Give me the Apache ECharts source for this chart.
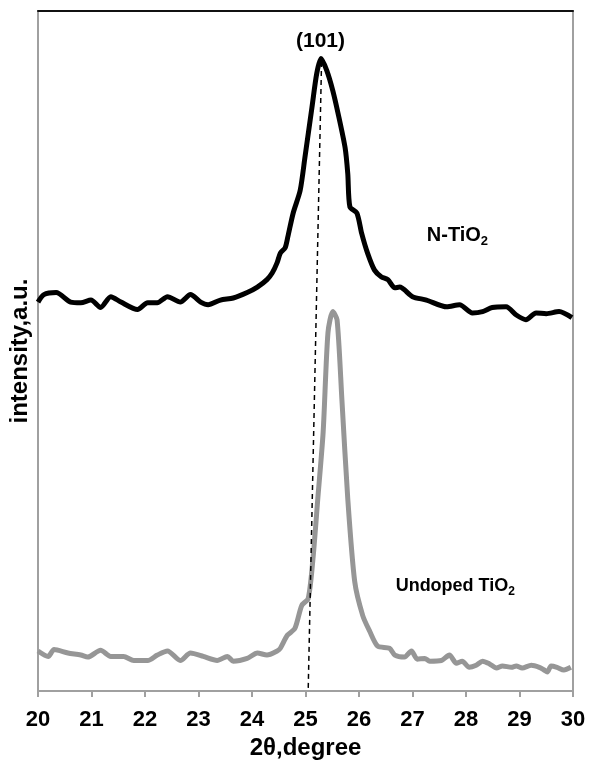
<!DOCTYPE html>
<html>
<head>
<meta charset="utf-8">
<script src="https://cdn.jsdelivr.net/npm/echarts@6/dist/echarts.min.js"></script>
<style>
  html, body { margin: 0; padding: 0; background: #fff; }
  #main { width: 590px; height: 765px; }
</style>
</head>
<body>
<div id="main"></div>
<script>
// 2theta (degree) / intensity (a.u., 0-100 of the plot height)
var nTheta = [20.00, 20.11, 20.34, 20.61, 20.80, 20.99, 21.17, 21.36, 21.55, 21.86, 22.05, 22.23, 22.42, 22.66, 22.85, 23.04, 23.18, 23.41, 23.65, 23.91, 24.10, 24.28, 24.38, 24.47, 24.53, 24.62, 24.67, 24.77, 24.90, 24.99, 25.12, 25.21, 25.29, 25.40, 25.51, 25.61, 25.74, 25.79, 25.83, 25.96, 26.05, 26.16, 26.29, 26.42, 26.54, 26.67, 26.76, 27.00, 27.26, 27.64, 27.88, 28.12, 28.31, 28.49, 28.75, 28.94, 29.12, 29.31, 29.50, 29.74, 29.98];
var nInt = [57.2, 58.3, 58.6, 57.2, 57.1, 57.5, 56.4, 58.0, 57.2, 56.1, 57.1, 57.1, 58.0, 57.2, 58.3, 57.2, 56.8, 57.5, 57.8, 58.6, 59.4, 60.5, 61.5, 63.0, 64.4, 65.2, 66.8, 70.3, 73.6, 78.5, 85.8, 90.8, 93.0, 91.2, 88.3, 84.9, 79.9, 76.1, 71.2, 70.3, 67.3, 64.4, 61.9, 60.9, 60.5, 59.3, 59.4, 58.0, 57.5, 56.5, 56.8, 55.6, 55.8, 56.4, 56.5, 55.3, 54.6, 55.6, 55.5, 55.8, 54.9];

var uTheta = [20.00, 20.19, 20.30, 20.56, 20.80, 20.93, 21.17, 21.36, 21.60, 21.79, 22.05, 22.23, 22.42, 22.66, 22.85, 23.09, 23.35, 23.54, 23.65, 23.91, 24.10, 24.28, 24.47, 24.53, 24.66, 24.80, 24.93, 25.05, 25.14, 25.23, 25.33, 25.42, 25.51, 25.59, 25.68, 25.79, 25.92, 26.07, 26.20, 26.35, 26.57, 26.67, 26.85, 26.98, 27.09, 27.23, 27.32, 27.54, 27.69, 27.82, 27.93, 28.06, 28.19, 28.31, 28.44, 28.57, 28.68, 28.85, 28.94, 29.05, 29.22, 29.37, 29.46, 29.52, 29.59, 29.70, 29.83, 29.96];
var uInt = [5.9, 5.1, 6.1, 5.6, 5.3, 5.0, 6.0, 5.1, 5.1, 4.5, 4.5, 5.3, 5.9, 4.5, 5.6, 5.1, 4.5, 5.1, 4.4, 4.8, 5.6, 5.3, 5.9, 6.3, 8.2, 9.2, 12.6, 13.6, 19.5, 28.3, 38.1, 52.7, 55.8, 54.6, 42.9, 28.3, 16.1, 11.1, 8.8, 6.6, 6.3, 5.3, 5.0, 5.9, 4.7, 4.8, 4.4, 4.5, 5.3, 4.1, 4.4, 3.5, 3.8, 4.4, 4.0, 3.4, 3.7, 3.5, 3.7, 3.4, 3.8, 3.5, 3.1, 2.8, 3.7, 3.5, 3.1, 3.5];

// dashed guide through the (101) reflection
var guideTheta = [25.30, 25.05];
var guideInt = [92.5, 0];

var xTicks = ['20', '21', '22', '23', '24', '25', '26', '27', '28', '29', '30'];

// annotation texts: main part + subscript
var notes = [
  { main: '(101)', sub: '', x: 25.28, y: 95.5, size: 21 },
  { main: 'N-TiO', sub: '2', x: 27.84, y: 67.0, size: 20 },
  { main: 'Undoped TiO', sub: '2', x: 27.8, y: 15.4, size: 18 }
];

function pairs(xs, ys) {
  return xs.map(function (x, i) { return [x, ys[i]]; });
}

var chart = echarts.init(document.getElementById('main'), null, { renderer: 'canvas' });

var font = 'Liberation Sans, Arial, sans-serif';

var option = {
  backgroundColor: '#fff',
  animation: false,
  grid: { left: 36, right: 17, top: 11, bottom: 71 },
  xAxis: [
    {
      type: 'value', min: 20, max: 30, interval: 1,
      name: '2θ,degree', nameLocation: 'middle', nameGap: 43,
      nameTextStyle: { fontFamily: font, fontWeight: 'bold', fontSize: 24, color: '#000' },
      axisLine: { lineStyle: { color: '#a0a0a0', width: 2 } },
      axisTick: { show: true, inside: false, length: 6, lineStyle: { color: '#a0a0a0', width: 2 } },
      axisLabel: {
        margin: 18, fontFamily: font, fontWeight: 'bold', fontSize: 22, color: '#000',
        formatter: function (v) { return xTicks[Math.round(v - 20)]; }
      },
      splitLine: { show: false }
    },
    {
      type: 'value', min: 20, max: 30, position: 'top',
      axisLine: { show: true, onZero: false, lineStyle: { color: '#111', width: 2 } },
      axisTick: { show: false }, axisLabel: { show: false }, splitLine: { show: false }
    }
  ],
  yAxis: [
    {
      type: 'value', min: 0, max: 100,
      name: 'intensity,a.u.', nameLocation: 'middle', nameGap: 6, nameRotate: 90,
      nameTextStyle: { fontFamily: font, fontWeight: 'bold', fontSize: 24, color: '#000' },
      axisLine: { show: true, lineStyle: { color: '#a0a0a0', width: 2 } },
      axisTick: { show: false }, axisLabel: { show: false }, splitLine: { show: false }
    },
    {
      type: 'value', min: 0, max: 100, position: 'right',
      axisLine: { show: true, onZero: false, lineStyle: { color: '#a0a0a0', width: 2 } },
      axisTick: { show: false }, axisLabel: { show: false }, splitLine: { show: false }
    }
  ],
  series: [
    {
      name: 'Undoped TiO2', type: 'line', data: pairs(uTheta, uInt),
      showSymbol: false, smooth: 0.25,
      lineStyle: { color: '#969696', width: 5 }, z: 3
    },
    {
      name: 'N-TiO2', type: 'line', data: pairs(nTheta, nInt),
      showSymbol: false, smooth: 0.25,
      lineStyle: { color: '#000', width: 5 }, z: 4
    },
    {
      name: 'guide', type: 'line', data: pairs(guideTheta, guideInt),
      showSymbol: false,
      lineStyle: { color: '#000', width: 1.5, type: [5, 4] }, z: 5
    },
    {
      name: 'notes', type: 'scatter', symbolSize: 1, silent: true,
      itemStyle: { opacity: 1, color: 'rgba(0,0,0,0)' },
      data: notes.map(function (n) {
        return {
          value: [n.x, n.y],
          label: {
            show: true, position: 'inside', color: '#000',
            formatter: '{t|' + n.main + '}' + (n.sub ? '{s|' + n.sub + '}' : ''),
            rich: {
              t: { fontFamily: font, fontWeight: 'bold', fontSize: n.size, color: '#000' },
              s: { fontFamily: font, fontWeight: 'bold', fontSize: Math.round(n.size * 0.65), color: '#000', padding: [Math.round(n.size * 0.55), 0, 0, 0] }
            }
          }
        };
      }),
      z: 6
    }
  ]
};

chart.setOption(option);
</script>
</body>
</html>
